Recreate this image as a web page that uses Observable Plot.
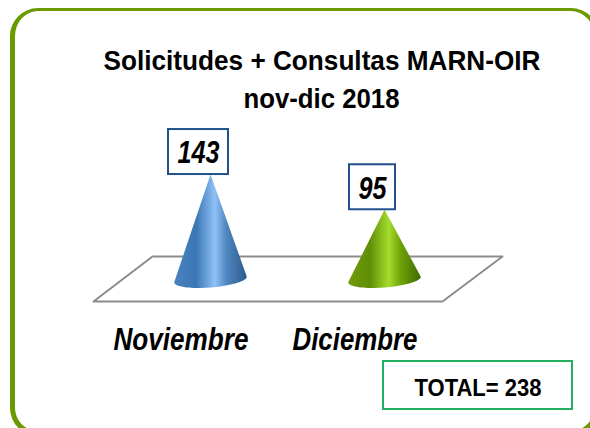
<!DOCTYPE html>
<html><head><meta charset="utf-8">
<script src="https://cdn.jsdelivr.net/npm/d3@7"></script>
<script src="https://cdn.jsdelivr.net/npm/@observablehq/plot@0.6"></script>
<style>
html,body{margin:0;padding:0;background:#fff;width:590px;height:428px;overflow:hidden}
#wrap{position:relative;width:590px;height:428px;overflow:hidden}
#border{position:absolute;left:10px;top:8px;width:589px;height:428px;box-sizing:border-box;border:solid #6a9a00;border-width:3px 5px 5px 5px;border-radius:28px}
#chart{position:absolute;left:0;top:0}
svg{display:block}
</style></head><body>
<div id="wrap"><div id="border"></div><div id="chart"></div></div>
<script>
const months = ["Noviembre", "Diciembre"];
const counts = [143, 95];
const total = 238;
const titleLines = ["Solicitudes + Consultas MARN-OIR", "nov-dic 2018"];
const totalLabel = "TOTAL= 238";
const gradients = [
  {id:"gBlue", stops:[["0%","#4a82bf"],["30%","#3b76b4"],["56%","#8fc2f7"],["72%","#4f86c0"],["100%","#2c5b8c"]]},
  {id:"gGreen", stops:[["0%","#6f9a0c"],["30%","#5f8f06"],["56%","#a5dc2c"],["72%","#6fa308"],["100%","#3f6a00"]]}
];
const W=590,H=428, x0=210, xStep=174, y0=279, yPer=0.734;
const ux = px => (px-x0)/xStep, uy = py => (y0-py)/yPer;
const coneHalf = 36.3/xStep, coneTilt = 2.8/yPer, coneRy = 8/yPer;
function conePoints(i,v){
  const pts=[{x:i,y:v}];
  for(let k=0;k<=40;k++){const t=Math.PI*k/40;
    pts.push({x:i+coneHalf*Math.cos(t), y:-coneRy*Math.sin(t)+coneTilt*Math.cos(t)});}
  return pts;
}
const floorPts=[[152,256],[502,256],[442,301],[93,301],[152,256]].map(([a,b])=>({x:ux(a),y:uy(b)}));
const rows=months.map((m,i)=>({i,m,v:counts[i],half:(i?23:30)/xStep}));
const boxH=45/yPer, boxShift=12/xStep;
const font="Liberation Sans, Arial, sans-serif";
const textWidths=new Map([
  [titleLines[0],437],[titleLines[1],156],[months[0],135],[months[1],125],
  [String(counts[0]),42],[String(counts[1]),28],[totalLabel,127]
]);
const plot=Plot.plot({
  width:W,height:H,margin:0,
  x:{type:"linear",domain:[ux(0),ux(W)],range:[0,W],axis:null},
  y:{type:"linear",domain:[uy(H),uy(0)],range:[H,0],axis:null},
  style:{background:"transparent",fontFamily:font},
  marks:[
    Plot.line(floorPts,{x:"x",y:"y",stroke:"#8c8c8c",strokeWidth:2}),
    Plot.line(conePoints(0,counts[0]),{x:"x",y:"y",fill:"url(#gBlue)",stroke:"none"}),
    Plot.line(conePoints(1,counts[1]),{x:"x",y:"y",fill:"url(#gGreen)",stroke:"none"}),
    Plot.rect(rows,{x1:d=>d.i-boxShift-d.half,x2:d=>d.i-boxShift+d.half,y1:"v",y2:d=>d.v+boxH,fill:"#fff",stroke:"#21508c",strokeWidth:2}),
    Plot.text(rows,{x:d=>d.i-boxShift,y:d=>d.v+boxH/2,dy:1.5,text:d=>String(d.v),fontSize:31,fontWeight:"bold",fontStyle:"italic",fill:"#000"}),
    Plot.text(rows,{x:"i",frameAnchor:"top",dx:-29.5,dy:340,text:"m",fontSize:31,fontWeight:"bold",fontStyle:"italic",fill:"#000",lineAnchor:"middle"}),
    Plot.text(titleLines,{text:d=>d,frameAnchor:"top",dx:26.5,fontSize:28.5,fontWeight:"bold",fill:"#000",lineAnchor:"middle",filter:(d,i)=>i===0,dy:60}),
    Plot.text(titleLines,{text:d=>d,frameAnchor:"top",dx:26,fontSize:28.5,fontWeight:"bold",fill:"#000",lineAnchor:"middle",filter:(d,i)=>i===1,dy:98}),
    Plot.rect([total],{x1:ux(383),x2:ux(572),y1:uy(361),y2:uy(409),fill:"#fff",stroke:"#20b060",strokeWidth:2}),
    Plot.text([totalLabel],{text:d=>d,x:ux(477.5),y:uy(387.5),fontSize:24,fontWeight:"bold",fill:"#000"})
  ]
});
plot.querySelectorAll("text").forEach(t=>{
  const w=textWidths.get(t.textContent);
  if(w){t.setAttribute("textLength",w);t.setAttribute("lengthAdjust","spacingAndGlyphs");}
});
const NS="http://www.w3.org/2000/svg";
const defs=document.createElementNS(NS,"defs");
for(const g of gradients){
  const lg=document.createElementNS(NS,"linearGradient");
  lg.setAttribute("id",g.id);
  for(const [o,c] of g.stops){const s=document.createElementNS(NS,"stop");s.setAttribute("offset",o);s.setAttribute("stop-color",c);lg.appendChild(s);}
  defs.appendChild(lg);
}
plot.insertBefore(defs,plot.firstChild);
document.getElementById("chart").appendChild(plot);
</script></body></html>
